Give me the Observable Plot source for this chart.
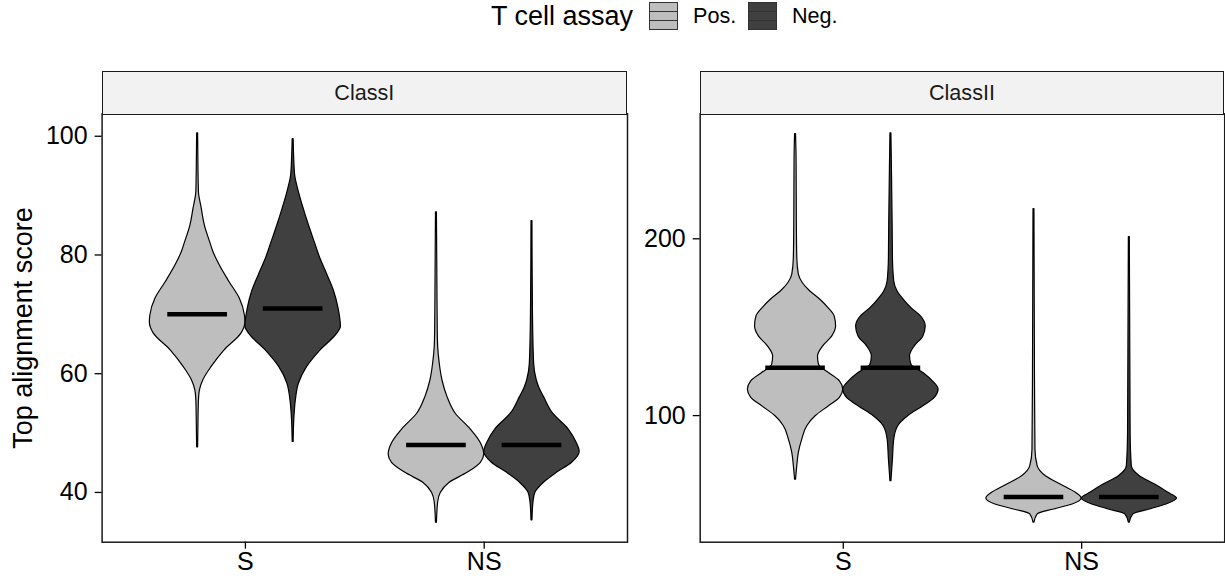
<!DOCTYPE html>
<html>
<head>
<meta charset="utf-8">
<script src="https://cdn.jsdelivr.net/npm/d3@7"></script>
<script src="https://cdn.jsdelivr.net/npm/@observablehq/plot@0.6"></script>
<style>
  body { margin: 0; background: #fff; font-family: "Liberation Sans", Arial, Helvetica, sans-serif; }
  #root { position: relative; width: 1225px; height: 579px; overflow: hidden; background: #fff; }
  .strip { position: absolute; box-sizing: border-box; background: #f2f2f2; border: 1.5px solid #1a1a1a;
           display: flex; align-items: center; justify-content: center; font-size: 21.6px; color: #1a1a1a; }
  .plotbox { position: absolute; }
  .plotbox svg { overflow: visible; }
  .leg { position: absolute; top: 0; height: 32px; line-height: 32px; color: #000; white-space: nowrap; }
  .key { position: absolute; top: 2px; width: 29px; height: 28px; box-sizing: border-box; border: 1.5px solid #333; }
  .key .mid { position: absolute; left: 0; right: 0; top: 8px; height: 10px; box-sizing: border-box;
              border-top: 1.5px solid #333; border-bottom: 1.5px solid #333; }
</style>
</head>
<body>
<div id="root"></div>
<script>
// ---------------- data ----------------
const panels = ["ClassI", "ClassII"];
const categories = ["S", "NS"];
const groups = ["Pos.", "Neg."];
const legendTitle = "T cell assay";
const yTitle = "Top alignment score";

const classI_ticks = [40, 60, 80, 100];
const classII_ticks = [100, 200];

// violin profiles: score values and relative half-width (1 = widest violin in the panel)
const classI_S_pos_score = [47.6, 51.5, 55.5, 57.2, 58.9, 61.1, 63.9, 66.8, 68.6, 69.8, 72.7, 75.4, 78.3, 80.5, 82.2, 85.0, 87.9, 90.6, 95.0, 100.5];
const classI_S_pos_width = [0.01, 0.017, 0.027, 0.048, 0.12, 0.29, 0.56, 0.92, 1.0, 0.99, 0.88, 0.67, 0.46, 0.33, 0.26, 0.15, 0.084, 0.027, 0.017, 0.01];

const classI_S_neg_score = [48.5, 52.7, 55.5, 58.3, 61.1, 63.9, 66.7, 67.9, 71.0, 73.8, 76.6, 79.4, 82.2, 85.0, 87.8, 90.6, 93.4, 96.5, 99.5];
const classI_S_neg_width = [0.01, 0.027, 0.056, 0.12, 0.29, 0.57, 0.92, 1.0, 0.95, 0.86, 0.72, 0.57, 0.45, 0.33, 0.22, 0.12, 0.042, 0.021, 0.01];

const classI_NS_pos_score = [34.9, 38.3, 39.9, 41.6, 43.3, 45.0, 46.4, 48.3, 50.6, 53.3, 56.1, 58.9, 61.7, 64.5, 67.3, 75.0, 87.2];
const classI_NS_pos_width = [0.01, 0.036, 0.09, 0.27, 0.65, 0.93, 1.0, 0.93, 0.72, 0.40, 0.23, 0.125, 0.069, 0.036, 0.027, 0.02, 0.01];

const classI_NS_neg_score = [35.3, 38.3, 39.9, 41.6, 43.3, 45.0, 46.9, 48.3, 50.6, 53.3, 56.1, 57.5, 58.9, 61.7, 70.0, 85.7];
const classI_NS_neg_width = [0.01, 0.031, 0.069, 0.245, 0.52, 0.84, 1.0, 0.94, 0.77, 0.44, 0.25, 0.16, 0.10, 0.045, 0.021, 0.01];

const classII_S_pos_score = [63.8, 71.4, 78.9, 86.4, 94.0, 99.6, 105.3, 110.0, 114.7, 119.4, 124.1, 128.8, 133.5, 139.2, 144.8, 150.5, 156.1, 160.8, 165.5, 170.2, 175.0, 179.7, 189.1, 207.9, 245.6, 259.2];
const classII_S_pos_width = [0.01, 0.036, 0.069, 0.14, 0.245, 0.42, 0.70, 0.93, 1.0, 0.93, 0.70, 0.49, 0.47, 0.58, 0.77, 0.85, 0.82, 0.69, 0.52, 0.31, 0.15, 0.069, 0.036, 0.027, 0.021, 0.01];

const classII_S_neg_score = [62.9, 75.1, 86.4, 94.0, 99.6, 105.3, 110.0, 114.7, 119.4, 124.1, 128.8, 133.5, 139.2, 144.8, 150.5, 156.1, 160.8, 165.5, 170.2, 175.9, 189.1, 207.9, 240.0, 259.7];
const classII_S_neg_width = [0.01, 0.042, 0.069, 0.153, 0.36, 0.68, 0.92, 1.0, 0.88, 0.68, 0.43, 0.40, 0.50, 0.68, 0.73, 0.63, 0.43, 0.27, 0.14, 0.069, 0.042, 0.036, 0.021, 0.01];

const classII_NS_pos_score = [39.4, 44.1, 46.9, 49.7, 53.1, 56.3, 61.0, 65.7, 71.4, 80.8, 120.0, 216.8];
const classII_NS_pos_width = [0.01, 0.077, 0.42, 0.81, 1.0, 0.88, 0.56, 0.25, 0.077, 0.031, 0.021, 0.01];

const classII_NS_neg_score = [39.4, 44.1, 46.9, 49.7, 53.1, 56.3, 61.0, 65.7, 71.4, 90.0, 201.0];
const classII_NS_neg_width = [0.01, 0.084, 0.43, 0.78, 1.0, 0.82, 0.54, 0.22, 0.052, 0.027, 0.01];

// medians per category (S, NS)
const classI_median_pos = [70, 48];
const classI_median_neg = [71, 48];
const classII_median_pos = [127, 54];
const classII_median_neg = [127, 54];

// ---------------- styling ----------------
const fills = { "Pos.": "#bebebe", "Neg.": "#404040" };
const dodge = { "Pos.": -0.2, "Neg.": 0.2 };
const halfMax = 0.2;     // widest violin half-width, in category units
const medianHalf = 0.125;
const font = '"Liberation Sans", Arial, Helvetica, sans-serif';

function buildRows(panel, list) {
  const rows = [];
  for (const v of list) {
    const center = categories.indexOf(v.cat) + 1 + dodge[v.group];
    v.score.forEach((s, i) => rows.push({
      panel, id: v.cat + v.group, group: v.group, y: s,
      x1: center - v.width[i] * halfMax, x2: center + v.width[i] * halfMax
    }));
  }
  return rows;
}
function buildMedians(pos, neg) {
  const out = [];
  categories.forEach((c, i) => {
    for (const [g, arr] of [["Pos.", pos], ["Neg.", neg]]) {
      const center = i + 1 + dodge[g];
      out.push({ cat: c, group: g, m: arr[i], x1: center - medianHalf, x2: center + medianHalf });
    }
  });
  return out;
}
function expand(vals) {
  const [a, b] = d3.extent(vals);
  const p = (b - a) * 0.05;
  return [a - p, b + p];
}

function makePanel({ rows, medians, ticks, width, marginLeft, marginRight, withTitle }) {
  const marks = [
    Plot.areaX(rows.filter(d => d.group === "Pos."), { y: "y", x1: "x1", x2: "x2", z: "id", fill: fills["Pos."], stroke: "#000", strokeWidth: 1.2, curve: "monotone-y" }),
    Plot.areaX(rows.filter(d => d.group === "Neg."), { y: "y", x1: "x1", x2: "x2", z: "id", fill: fills["Neg."], stroke: "#000", strokeWidth: 1.2, curve: "monotone-y" }),
    Plot.ruleY(medians, { y: "m", x1: "x1", x2: "x2", stroke: "#000", strokeWidth: 4.5 }),
    Plot.frame({ stroke: "#1a1a1a", strokeWidth: 1.5 }),
    Plot.axisY(ticks, { tickSize: 7, tickPadding: 7.5, fontSize: 25, label: null, strokeWidth: 1.3 }),
    Plot.axisX([1, 2], { tickFormat: d => categories[d - 1], tickSize: 7, tickPadding: 3, fontSize: 25, label: null, strokeWidth: 1.3 })
  ];
  if (withTitle) {
    marks.push(Plot.text([yTitle], { text: d => d, frameAnchor: "left", textAnchor: "middle", lineAnchor: "middle", dx: -78.6, rotate: -90, fontSize: 27, fill: "#000" }));
  }
  return Plot.plot({
    width, height: 468,
    marginTop: 2.3, marginBottom: 37.3, marginLeft, marginRight,
    style: { fontFamily: font, color: "#000", background: "transparent" },
    x: { domain: [0.4, 2.6], axis: null },
    y: { domain: expand(rows.map(d => d.y)), axis: null },
    marks
  });
}

const rowsI = buildRows("ClassI", [
  { cat: "S", group: "Pos.", score: classI_S_pos_score, width: classI_S_pos_width },
  { cat: "S", group: "Neg.", score: classI_S_neg_score, width: classI_S_neg_width },
  { cat: "NS", group: "Pos.", score: classI_NS_pos_score, width: classI_NS_pos_width },
  { cat: "NS", group: "Neg.", score: classI_NS_neg_score, width: classI_NS_neg_width }
]);
const rowsII = buildRows("ClassII", [
  { cat: "S", group: "Pos.", score: classII_S_pos_score, width: classII_S_pos_width },
  { cat: "S", group: "Neg.", score: classII_S_neg_score, width: classII_S_neg_width },
  { cat: "NS", group: "Pos.", score: classII_NS_pos_score, width: classII_NS_pos_width },
  { cat: "NS", group: "Neg.", score: classII_NS_neg_score, width: classII_NS_neg_width }
]);

const root = document.getElementById("root");

// Legend
function addEl(cls, left, html, extra) {
  const el = document.createElement("div");
  el.className = cls;
  el.style.left = left + "px";
  if (extra) Object.assign(el.style, extra);
  el.innerHTML = html;
  root.appendChild(el);
  return el;
}
addEl("leg", 491, legendTitle, { fontSize: "27px" });
addEl("key", 649, '<div class="mid"></div>', { background: fills["Pos."] });
addEl("leg", 693, groups[0], { fontSize: "21.6px" });
addEl("key", 748, '<div class="mid"></div>', { background: fills["Neg."] });
addEl("leg", 792, groups[1], { fontSize: "21.6px" });

// Panels
const p1 = makePanel({ rows: rowsI, medians: buildMedians(classI_median_pos, classI_median_neg), ticks: classI_ticks,
  width: 640, marginLeft: 101.6, marginRight: 13, withTitle: true });
const p2 = makePanel({ rows: rowsII, medians: buildMedians(classII_median_pos, classII_median_neg), ticks: classII_ticks,
  width: 585, marginLeft: 59.7, marginRight: 0.8, withTitle: false });

const box1 = document.createElement("div"); box1.className = "plotbox"; box1.style.left = "0px"; box1.style.top = "111px"; box1.appendChild(p1); root.appendChild(box1);
const box2 = document.createElement("div"); box2.className = "plotbox"; box2.style.left = "640px"; box2.style.top = "111px"; box2.appendChild(p2); root.appendChild(box2);

// Strips
addEl("strip", 101.6, panels[0], { top: "71px", width: (627 - 101.6) + "px", height: "43.5px" });
addEl("strip", 699.7, panels[1], { top: "71px", width: (1224.2 - 699.7) + "px", height: "43.5px" });
</script>
</body>
</html>
